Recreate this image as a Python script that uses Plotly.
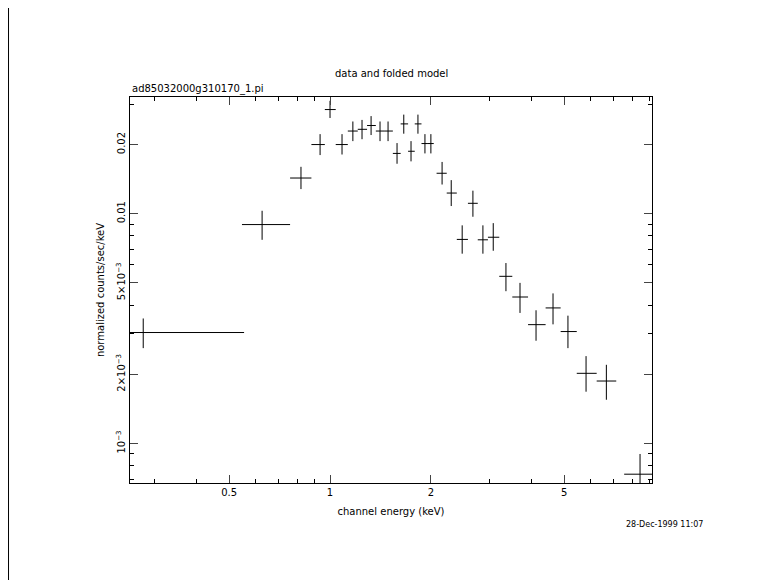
import plotly.graph_objects as go

energy = [0.277,0.627,0.819,0.934,1.0,1.086,1.17,1.246,1.326,1.41,1.49,1.585,1.66,1.745,1.83,1.92,2.0,2.16,2.30,2.48,2.67,2.86,3.07,3.35,3.69,4.12,4.63,5.13,5.81,6.68,8.42]
e_lo   = [0.14,0.546,0.760,0.880,0.965,1.04,1.13,1.21,1.29,1.37,1.45,1.54,1.625,1.71,1.79,1.875,1.96,2.08,2.23,2.39,2.58,2.76,2.96,3.2,3.5,3.9,4.4,4.88,5.45,6.25,7.55]
e_hi   = [0.554,0.760,0.880,0.965,1.04,1.13,1.21,1.29,1.37,1.45,1.54,1.625,1.71,1.79,1.875,1.96,2.04,2.23,2.39,2.58,2.76,2.96,3.2,3.5,3.9,4.4,4.88,5.45,6.25,7.15,9.3]
rate   = [3.04e-3,8.97e-3,0.0143,0.0200,0.0284,0.0200,0.0229,0.0233,0.0242,0.0229,0.0229,0.0183,0.0246,0.0187,0.0246,0.0202,0.0202,0.0150,0.0123,0.00773,0.0111,0.0077,0.0079,5.34e-3,4.34e-3,3.29e-3,3.89e-3,3.07e-3,2.02e-3,1.87e-3,7.35e-4]
r_lo   = [2.6e-3,7.7e-3,0.0128,0.0180,0.0261,0.0181,0.0207,0.0211,0.0220,0.0207,0.0207,0.0165,0.0223,0.0169,0.0223,0.0183,0.0183,0.0134,0.0108,0.0067,0.0097,0.0067,0.0069,4.6e-3,3.7e-3,2.8e-3,3.3e-3,2.6e-3,1.68e-3,1.55e-3,5.9e-4]
r_hi   = [3.5e-3,1.03e-2,0.0160,0.0222,0.0310,0.0222,0.0252,0.0256,0.0266,0.0252,0.0252,0.0203,0.0270,0.0207,0.0270,0.0222,0.0222,0.0168,0.0140,0.0089,0.0126,0.0089,0.0091,6.1e-3,5.0e-3,3.8e-3,4.5e-3,3.6e-3,2.4e-3,2.2e-3,9.0e-4]

xt_vals = [0.5,1,2,5]
xt_text = ["0.5","1","2","5"]
yt_vals = [0.001,0.002,0.005,0.01,0.02]
yt_text = ["10<sup>−3</sup>","2×10<sup>−3</sup>","5×10<sup>−3</sup>","0.01","0.02"]

fig = go.Figure(go.Scatter(
    x=energy, y=rate, mode="markers", marker=dict(size=0.1, color="black"),
    error_x=dict(type="data", symmetric=False,
                 array=[h-e for h,e in zip(e_hi,energy)],
                 arrayminus=[e-l for l,e in zip(e_lo,energy)],
                 color="black", thickness=1, width=0),
    error_y=dict(type="data", symmetric=False,
                 array=[h-r for h,r in zip(r_hi,rate)],
                 arrayminus=[r-l for l,r in zip(r_lo,rate)],
                 color="black", thickness=1, width=0),
    showlegend=False))

f = dict(family="DejaVu Sans", size=10, color="black")
L, T = 122, 89
W, H = 522, 386
fig.update_layout(
    width=781, height=580, margin=dict(l=L, r=781-L-W, t=T, b=580-T-H),
    paper_bgcolor="white", plot_bgcolor="white", font=f,
    xaxis=dict(type="log", range=[-0.597, 0.961], tickvals=xt_vals, ticktext=xt_text,
               ticks="inside", ticklen=8, showline=True, linecolor="black", mirror="ticks",
               showgrid=False, zeroline=False, tickfont=f,
               minor=dict(ticks="inside", ticklen=4, tickcolor="black", dtick="D1", showgrid=False),
               title=dict(text="channel energy (keV)", font=f, standoff=10)),
    yaxis=dict(type="log", range=[-3.172, -1.492], tickvals=yt_vals, ticktext=yt_text,
               tickangle=-90, ticks="inside", ticklen=8, showline=True, linecolor="black",
               mirror="ticks", showgrid=False, zeroline=False, tickfont=f,
               minor=dict(ticks="inside", ticklen=4, tickcolor="black", dtick="D1", showgrid=False),
               title=dict(text="normalized counts/sec/keV", font=f, standoff=8)),
    annotations=[
        dict(text="data and folded model", x=0.5, y=1, xref="paper", yref="paper",
             yshift=31, showarrow=False, font=f),
        dict(text="ad85032000g310170_1.pi", x=0, y=1, xref="paper", yref="paper",
             xanchor="left", yanchor="bottom", yshift=0, showarrow=False, font=f),
        dict(text="28-Dec-1999 11:07", x=(705-130)/W, y=(483-531)/H, xref="paper", yref="paper",
             xanchor="right", showarrow=False, font=dict(family="DejaVu Sans", size=8, color="black")),
    ],
    shapes=[dict(type="line", xref="paper", yref="paper", x0=-L/W + 0.001, x1=-L/W + 0.001,
                 y0=(483-580)/H, y1=(483+10)/H, line=dict(color="black", width=1))],
)
fig.write_html("out.html")
